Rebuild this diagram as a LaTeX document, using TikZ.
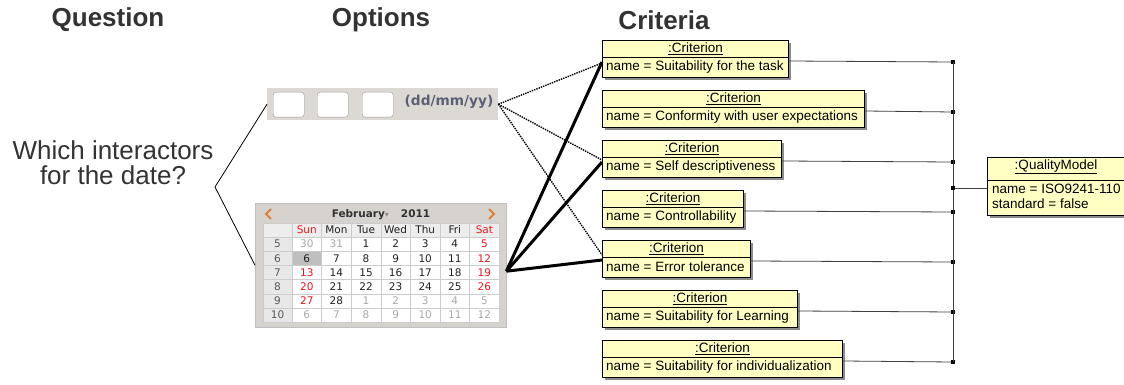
\documentclass[tikz,border=0pt]{standalone}
\usepackage{fontspec}
\setmainfont{Liberation Sans}
\newfontfamily\calfont{DejaVu Sans}
\usetikzlibrary{shadows}

\definecolor{umlyellow}{HTML}{FFFFC4}
\definecolor{headgray}{HTML}{333333}
\definecolor{fieldgray}{HTML}{DCD9D5}
\definecolor{calframe}{HTML}{D6D2CD}
\definecolor{calr}{HTML}{F0141E}
\definecolor{calk}{HTML}{222222}
\definecolor{calg}{HTML}{A8A8A8}
\definecolor{calorange}{HTML}{E0803A}
\definecolor{datefmt}{HTML}{5A5F73}

\tikzset{
  heading/.style={font=\fontsize{26}{28}\selectfont\bfseries, text=headgray},
  umlbox/.style={draw=black, fill=umlyellow, line width=0.8pt, inner sep=0pt,
    anchor=north west, minimum height=37pt,
    drop shadow={shadow xshift=3pt, shadow yshift=-3pt, fill=black!45, opacity=1}},
  umltitle/.style={font=\fontsize{13.5}{15}\selectfont, inner sep=0pt},
  umlattr/.style={font=\fontsize{13.5}{15}\selectfont, inner sep=0pt, anchor=west},
  busline/.style={draw=black!75, line width=0.8pt},
  daynum/.style={font=\calfont\fontsize{10.5}{12}\selectfont, inner sep=0pt},
  weeknum/.style={daynum, text=black!65},
}

\begin{document}
\begin{tikzpicture}[x=1pt,y=-1pt]
\useasboundingbox[fill=white] (0,0) rectangle (1124,385);

\node[heading] (hq) at (108,20) {Question};
\node[heading] (ho) at (381,20) {Options};
\node[heading] (hc) at (664,20) {Criteria};

% the question
\node[align=center, text=headgray, font=\fontsize{26}{25}\selectfont] (q) at (113,163)
  {Which interactors\\for the date?};
\coordinate (fork) at (215,187);

% option 1: text field
\node[fill=fieldgray, anchor=north west, minimum width=231pt, minimum height=32pt, inner sep=0pt] (tf) at (267,88) {};
\foreach \x [count=\k] in {273,317,362}
  \node[draw=black!40, fill=white, rounded corners=3pt, anchor=north west,
        minimum width=31pt, minimum height=25pt, inner sep=0pt] (fld\k) at (\x,92) {};
\node[font=\calfont\fontsize{13.7}{15}\selectfont\bfseries, text=datefmt, inner sep=0pt] (fmt) at (449,102) {(dd/mm/yy)};

% option 2: calendar
\node[draw=black!25, fill=calframe, anchor=north west, minimum width=251pt, minimum height=124pt, inner sep=0pt] (cal) at (255,203) {};
\fill[black!7] (263,223) rectangle (499,237);
\fill[black!9] (263,237) rectangle (292,322);
\fill[white] (292,237) rectangle (499,322);
\fill[black!25] (292,251.2) rectangle (321.6,265.4);
\begin{scope}[draw=black!20, line width=0.6pt]
  \foreach \x in {263,292,321.6,351.2,380.8,410.4,440,469.6,499}
    \draw (\x,223) -- (\x,322);
  \foreach \y in {223,237,251.2,265.4,279.6,293.8,308,322}
    \draw (263,\y) -- (499,\y);
\end{scope}
\begin{scope}[calorange, line width=2pt]
  \draw (271,209) -- (266,214) -- (271,219);
  \draw (489,209) -- (494,214) -- (489,219);
\end{scope}
\node[daynum, text=black!80] (month) at (381,215)
  {\bfseries February{\color{black!45}\fontsize{8}{8}\selectfont ▾}\hspace{12pt}2011};
\foreach \dn/\c [count=\col] in {Sun/r,Mon/k,Tue/k,Wed/k,Thu/k,Fri/k,Sat/r}
  \node[daynum, text=cal\c] (dn\col) at ({292+29.6*\col-14.8},230) {\dn};
\foreach \wk/\cells [count=\r] in {
    5/{30/g,31/g,1/k,2/k,3/k,4/k,5/r},
    6/{6/k,7/k,8/k,9/k,10/k,11/k,12/r},
    7/{13/r,14/k,15/k,16/k,17/k,18/k,19/r},
    8/{20/r,21/k,22/k,23/k,24/k,25/k,26/r},
    9/{27/r,28/k,1/g,2/g,3/g,4/g,5/g},
    10/{6/g,7/g,8/g,9/g,10/g,11/g,12/g}} {
  \node[weeknum] (wk\r) at (277.5,{237+14.2*\r-7.1}) {\wk};
  \foreach \d/\c [count=\col] in \cells
    \node[daynum, text=cal\c] (d\r-\col) at ({292+29.6*\col-14.8},{237+14.2*\r-7.1}) {\d};
}

\draw[line width=0.8pt] (tf.west) -- (fork) -- (cal.west);

% criteria objects
\foreach \w/\txt [count=\i from 0] in {186/Suitability for the task,
    262/Conformity with user expectations, 179/Self descriptiveness,
    141/Controllability, 148/Error tolerance, 195/Suitability for Learning,
    240/Suitability for individualization} {
  \node[umlbox, minimum width=\w pt] (c\i) at (602,{40+50*\i}) {};
  \draw[line width=0.8pt] ([yshift=-17pt]c\i.north west) -- ([yshift=-17pt]c\i.north east);
  \node[umltitle] (ct\i) at ([yshift=-8.5pt]c\i.north) {\underline{:Criterion}};
  \node[umlattr] (ca\i) at ([xshift=4pt,yshift=-27pt]c\i.north west) {name = \txt};
  \coordinate (cr\i) at ([yshift=-21pt]c\i.north east);
  \coordinate (b\i) at (953,{62+50*\i});
  \draw[busline] (cr\i) -- (b\i);
  \fill[black] (b\i) +(-1.6pt,-1.6pt) rectangle +(1.6pt,1.6pt);
}
\draw[busline] (b0) -- (b6);

% quality model
\node[umlbox, minimum width=160pt, minimum height=58pt] (qm) at (987,157) {};
\draw[line width=0.8pt] ([yshift=-23pt]qm.north west) -- ([yshift=-23pt]qm.north east);
\node[umltitle] (qmt) at (1056,167) {\underline{:QualityModel}};
\node[umlattr] (qma) at (992,189) {name = ISO9241-110};
\node[umlattr] (qmb) at (992,204) {standard = false};
\coordinate (bq) at (953,188);
\draw[busline] (bq) -- (bq -| qm.west);
\fill[black] (bq) +(-1.6pt,-1.6pt) rectangle +(1.6pt,1.6pt);

% links from the options to the criteria
\begin{scope}[densely dotted, line width=1.4pt]
  \draw (tf.east) -- ([yshift=-23pt]c0.north west);
  \draw (tf.east) -- ([yshift=-20pt]c2.north west);
  \draw (tf.east) -- ([yshift=-15pt]c4.north west);
\end{scope}
\begin{scope}[line width=3pt]
  \draw ([yshift=-6pt]cal.east) -- ([yshift=-22pt]c0.north west);
  \draw ([yshift=-6pt]cal.east) -- ([yshift=-22pt]c2.north west);
  \draw ([yshift=-6pt]cal.east) -- ([yshift=-20pt]c4.north west);
\end{scope}
\end{tikzpicture}
\end{document}
